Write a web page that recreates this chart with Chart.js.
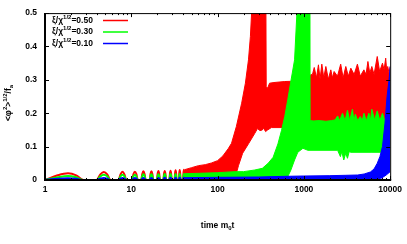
<!DOCTYPE html>
<html><head><meta charset="utf-8">
<script src="https://cdn.jsdelivr.net/npm/chart.js@4"></script>
<style>html,body{margin:0;padding:0;background:#fff;overflow:hidden}canvas{display:block}</style>
</head><body>
<canvas id="c" width="407" height="244"></canvas>
<script>
// ---------- data ----------
const xMajorTicks = [1, 10, 100, 1000, 10000];
const xMinorSteps = [2, 3, 4, 5, 6, 7, 8, 9];
const yTicks = [0, 0.1, 0.2, 0.3, 0.4, 0.5];
const seriesNames = ['0.50', '0.30', '0.10'];
const seriesColors = ['#ff0000', '#00ff00', '#0000ff'];

// early oscillation humps (shared time samples)
const humpT = [
  1.0, 1.4, 1.85, 2.3, 2.8,
  3.96, 4.38, 4.8, 5.26, 5.73,
  7.1, 7.5, 7.9, 8.33, 8.76,
  10.2, 10.6, 11.0, 11.45, 11.9,
  13.0, 13.4, 13.8, 14.25, 14.7,
  16.3, 16.7, 17.1, 17.55, 18.0,
  19.8, 20.2, 20.6, 21.05, 21.5,
  23.5, 23.95, 24.4, 24.85, 25.3,
  27.6, 28.05, 28.5, 28.95, 29.4,
  31.7, 32.15, 32.6, 33.05, 33.5,
  35.5, 35.95, 36.4, 36.85, 37.3,
  39.8, 40.25, 40.7, 41.15, 41.6
];
const humpRed = [
  0, .014, .020, .014, 0,
  0, .017, .024, .017, 0,
  0, .017, .025, .017, 0,
  0, .018, .025, .018, 0,
  0, .018, .026, .018, 0,
  0, .018, .026, .018, 0,
  0, .019, .027, .019, 0,
  0, .019, .027, .019, 0,
  0, .020, .028, .020, 0,
  0, .021, .029, .021, 0,
  0, .021, .030, .021, 0,
  0, .022, .031, .022, 0
];
const humpGreen = [
  0, .008, .012, .008, 0,
  0, .011, .016, .011, 0,
  0, .011, .016, .011, 0,
  0, .011, .016, .011, 0,
  0, .012, .017, .012, 0,
  0, .012, .017, .012, 0,
  0, .012, .017, .012, 0,
  0, .013, .018, .013, 0,
  0, .013, .018, .013, 0,
  0, .013, .018, .013, 0,
  0, .013, .019, .013, 0,
  0, .013, .019, .013, 0
];
const humpBlue = [
  0, .0035, .005, .0035, 0,
  0, .004, .006, .004, 0,
  0, .004, .006, .004, 0,
  0, .004, .006, .004, 0,
  0, .004, .006, .004, 0,
  0, .004, .006, .004, 0,
  0, .004, .006, .004, 0,
  0, .005, .007, .005, 0,
  0, .005, .007, .005, 0,
  0, .005, .007, .005, 0,
  0, .005, .007, .005, 0,
  0, .005, .007, .005, 0
];

// envelopes of the fast oscillation bands: [time, value]
const redUpper = [[41.6,0.031],[50,0.037],[60,0.043],[72,0.046],[85,0.051],[100,0.058],[115,0.072],[133,0.094],[145,0.11],[165,0.16],[190,0.23],[210,0.29],[228,0.36],[240,0.43],[250,0.52],[260,0.6],[362,0.6],[366,0.28],[380,0.275],[400,0.29],[450,0.292],[600,0.295],[800,0.296],[1100,0.30],
  [1109,0.311],[1260,0.317],[1318,0.337],[1400,0.306],[1475,0.345],[1540,0.302],[1614,0.347],[1700,0.306],[1797,0.340],[1920,0.302],[2052,0.330],[2140,0.306],[2240,0.325],[2450,0.311],[2670,0.347],[2850,0.306],[3060,0.340],[3270,0.311],[3500,0.335],[3820,0.316],[4170,0.347],[4500,0.311],[4960,0.330],[5250,0.316],[5520,0.355],[5800,0.320],[6130,0.340],[6500,0.316],[7080,0.370],[7550,0.325],[8140,0.350],[8500,0.330],[8870,0.365],[9100,0.33],[9370,0.340],[9700,0.32],[10000,0.34]];
const redLower = [[41.6,0],[150,0],[165,0.02],[175,0.044],[195,0.08],[230,0.11],[270,0.14],[290,0.154],[310,0.148],[330,0.15],[340,0.156],[360,0.145],[380,0.15],[420,0.157],[1000,0.157],[10000,0.15]];
const greenUpper = [[41.6,0.019],[60,0.02],[100,0.022],[160,0.025],[200,0.025],[270,0.03],[330,0.035],[385,0.05],[440,0.068],[500,0.108],[550,0.148],[600,0.19],[650,0.24],[700,0.29],[780,0.36],[830,0.5],[850,0.6],[1160,0.6],[1170,0.178],[1300,0.177],[1500,0.178],[1800,0.176],[2100,0.178],[2300,0.18],[2460,0.192],[2600,0.178],[2800,0.2],[3000,0.178],[3200,0.209],[3400,0.178],[3650,0.212],[3800,0.178],[3950,0.197],[4200,0.178],[4500,0.19],[4750,0.178],[4960,0.2],[5300,0.178],[5670,0.2],[5900,0.178],[6130,0.212],[6600,0.18],[7080,0.207],[7600,0.178],[8140,0.2],[8600,0.18],[10000,0.185]];
const greenLower = [[41.6,0],[600,0],[650,0.01],[707,0.03],[780,0.06],[850,0.083],[975,0.095],[1110,0.089],[2460,0.089],[2650,0.07],[2750,0.085],[2900,0.06],[3050,0.08],[3200,0.065],[3350,0.085],[3500,0.083],[6000,0.083],[7700,0.083],[10000,0.09]];
const blueUpper = [[41.6,0.007],[100,0.008],[300,0.009],[600,0.011],[1000,0.012],[2000,0.013],[3000,0.014],[4200,0.015],[5000,0.018],[5900,0.024],[6500,0.033],[7080,0.05],[7600,0.07],[8140,0.1],[8700,0.17],[9200,0.25],[9700,0.3],[10000,0.34]];
const blueLower = [[41.6,0],[6000,0],[7000,0.003],[8000,0.006],[9000,0.015],[10000,0.025]];

// ---------- build ----------
const toXY = arr => arr.map(p => ({x: p[0], y: p[1]}));
const humpXY = vals => humpT.map((t, i) => ({x: t, y: vals[i]}));

const FAMILY = '"Liberation Sans", Arial, sans-serif';
const FONT = 'bold 8.5px ' + FAMILY;
const SMALL = 'bold 6px ' + FAMILY;

function drawRich(ctx, parts, x, y, align) {
  let w = 0;
  for (const [t, k] of parts) { ctx.font = k ? SMALL : FONT; w += ctx.measureText(t).width; }
  let cx = align === 'center' ? x - w / 2 : x;
  ctx.textAlign = 'left';
  ctx.textBaseline = 'middle';
  for (const [t, k] of parts) {
    ctx.font = k ? SMALL : FONT;
    ctx.fillText(t, cx, y + (k === 1 ? -3.5 : k === 2 ? 2.5 : 0));
    cx += ctx.measureText(t).width;
  }
}

const hump = (vals, color) => ({data: humpXY(vals), borderColor: color, borderWidth: 2, pointRadius: 0,
  fill: false, cubicInterpolationMode: 'monotone', tension: 0.4, clip: 0});
const lower = (arr, color) => ({data: toXY(arr), borderColor: color, borderWidth: 1, pointRadius: 0, fill: false, tension: 0, clip: 0});
const upper = (arr, color) => ({data: toXY(arr), borderColor: color, backgroundColor: color, borderWidth: 1, pointRadius: 0, fill: '-1', tension: 0, clip: 0});

const datasets = [
  hump(humpBlue, seriesColors[2]), lower(blueLower, seriesColors[2]), upper(blueUpper, seriesColors[2]),
  hump(humpGreen, seriesColors[1]), lower(greenLower, seriesColors[1]), upper(greenUpper, seriesColors[1]),
  hump(humpRed, seriesColors[0]), lower(redLower, seriesColors[0]), upper(redUpper, seriesColors[0])
];

const overlay = {
  id: 'overlay',
  afterDatasetsDraw(chart) {
    const {ctx, chartArea: a, scales: {x, y}} = chart;
    ctx.save();
    ctx.strokeStyle = '#000';
    ctx.lineWidth = 1;
    ctx.beginPath();
    ctx.moveTo(a.left, a.top + 0.5); ctx.lineTo(a.right + 0.5, a.top + 0.5);
    ctx.moveTo(a.right + 0.5, a.top); ctx.lineTo(a.right + 0.5, a.bottom);
    for (const t of x.ticks) {
      const px = Math.round(x.getPixelForValue(t.value)) + 0.5;
      const len = xMajorTicks.includes(t.value) ? 4 : 2;
      ctx.moveTo(px, a.bottom); ctx.lineTo(px, a.bottom - len);
      ctx.moveTo(px, a.top); ctx.lineTo(px, a.top + len);
    }
    for (const t of y.ticks) {
      const py = Math.round(y.getPixelForValue(t.value)) + 0.5;
      ctx.moveTo(a.left, py); ctx.lineTo(a.left + 4, py);
      ctx.moveTo(a.right, py); ctx.lineTo(a.right - 4, py);
    }
    ctx.stroke();
    ctx.lineWidth = 2;
    ctx.beginPath();
    ctx.moveTo(a.left, a.top); ctx.lineTo(a.left, a.bottom + 1);
    ctx.moveTo(a.left - 1, a.bottom); ctx.lineTo(a.right + 1, a.bottom);
    ctx.stroke();

    // legend
    const rows = [20.5, 32, 43.5];
    seriesNames.forEach((n, i) => {
      ctx.fillStyle = '#000';
      drawRich(ctx, [['ξ/χ', 0], ['1/2', 1], ['=' + n, 0]], 52, rows[i], 'left');
      ctx.strokeStyle = seriesColors[i];
      ctx.lineWidth = 1.5;
      ctx.beginPath(); ctx.moveTo(103, rows[i]); ctx.lineTo(128, rows[i]); ctx.stroke();
    });
    ctx.fillStyle = '#000';
    // x title
    drawRich(ctx, [['time m', 0], ['0', 2], ['t', 0]], (a.left + a.right) / 2, 226, 'center');
    // y title
    ctx.translate(9, 103);
    ctx.rotate(-Math.PI / 2);
    drawRich(ctx, [['<φ', 0], ['2', 1], ['>', 0], ['1/2', 1], ['/f', 0], ['a', 2]], 0, 0, 'center');
    ctx.restore();
  }
};

new Chart(document.getElementById('c'), {
  type: 'line',
  data: {datasets},
  options: {
    responsive: false,
    devicePixelRatio: 1,
    animation: false,
    events: [],
    layout: {padding: {left: 0, right: 15, top: 11, bottom: 0}},
    plugins: {legend: {display: false}, tooltip: {enabled: false}},
    scales: {
      x: {
        type: 'logarithmic', min: 1, max: 10000,
        grid: {display: false, drawTicks: false}, border: {display: false},
        afterBuildTicks: s => {
          const vals = [];
          xMajorTicks.forEach((m, i) => {
            vals.push(m);
            if (i < xMajorTicks.length - 1) xMinorSteps.forEach(k => vals.push(m * k));
          });
          s.ticks = vals.map(v => ({value: v}));
        },
        afterFit: s => { s.height = 64; },
        ticks: {autoSkip: false, maxRotation: 0, padding: 5, color: '#000',
          font: {family: FAMILY, size: 8.5, weight: 'bold'},
          callback: v => xMajorTicks.includes(v) ? String(v) : ''}
      },
      y: {
        type: 'linear', min: 0, max: 0.5,
        grid: {display: false, drawTicks: false}, border: {display: false},
        afterBuildTicks: s => { s.ticks = yTicks.map(v => ({value: v})); },
        afterFit: s => { s.width = 45; },
        ticks: {padding: 8, color: '#000',
          font: {family: FAMILY, size: 8.5, weight: 'bold'},
          callback: v => v === 0 ? '0' : v.toFixed(1)}
      }
    }
  },
  plugins: [overlay]
});
</script>
</body></html>
